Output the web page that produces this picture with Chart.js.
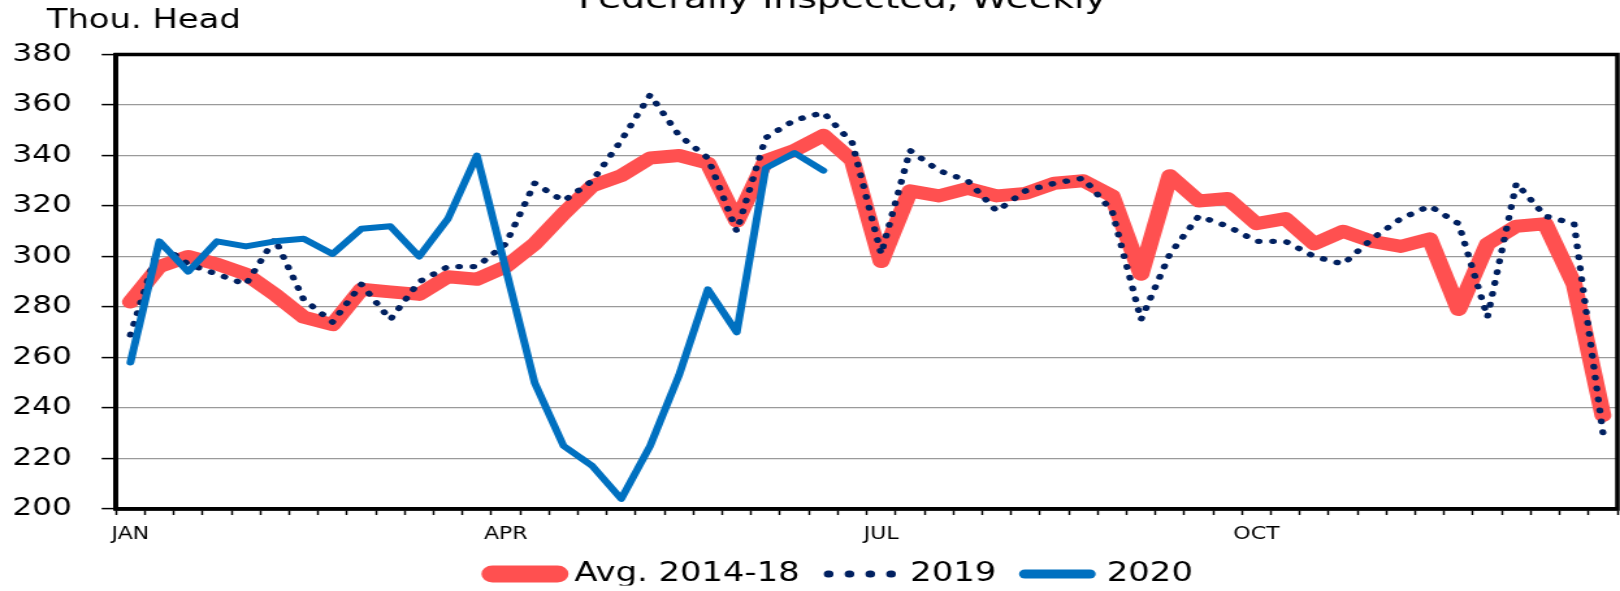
<!DOCTYPE html>
<html>
<head>
<meta charset="utf-8">
<title>Federally Inspected, Weekly</title>
<script src="https://cdn.jsdelivr.net/npm/chart.js@4.4.1/dist/chart.umd.min.js"></script>
<style>
  html, body { margin: 0; padding: 0; background: #fff; }
  canvas { display: block; }
</style>
</head>
<body>
<!-- drawn at 1246 px and shown at 1620 px: the source chart is stretched sideways -->
<canvas id="weekly-chart" width="1246" height="591" style="width:1620px;height:591px"></canvas>
<script>
const chartTitle = 'Federally Inspected, Weekly';
const unitLabel = 'Thou. Head';

const monthNames = ['JAN', 'APR', 'JUL', 'OCT'];
const monthWeeks = [0, 13, 26, 39];
const weekCount = 52;

const seriesNames = ['Avg. 2014-18', '2019', '2020'];

// thousand head, one value per week
const avg2014to18 = [282, 296, 300, 297, 293, 285, 276, 273, 287, 286, 285, 292, 291,
                     296, 305, 317, 328, 332, 339, 340, 337, 314, 338, 342, 348, 338,
                     298, 326, 324, 327, 324, 325, 329, 330, 324, 293, 332, 322, 323,
                     313, 315, 305, 310, 306, 304, 307, 279, 305, 312, 313, 289, 237];
const y2019 = [269, 305, 297, 293, 289, 307, 283, 274, 289, 275, 290, 296, 296,
               305, 329, 322, 330, 346, 364, 348, 339, 310, 347, 354, 357, 345,
               301, 342, 334, 330, 318, 326, 329, 331, 318, 275, 301, 316, 312,
               306, 306, 300, 297, 307, 315, 320, 313, 276, 329, 316, 313, 230];
const y2020 = [258, 306, 294, 306, 304, 306, 307, 301, 311, 312, 300, 315, 340,
               295, 250, 225, 217, 204, 225, 253, 287, 270, 335, 341, 334];

const yMin = 200, yMax = 380, yStep = 20;

const weekLabels = [];
for (let i = 0; i < weekCount; i++) {
    const k = monthWeeks.indexOf(i);
    weekLabels.push(k >= 0 ? monthNames[k] : '');
}

const FONT = "'DejaVu Sans', 'Verdana', sans-serif";

// plot frame + header texts, legend nudged to where the source has it
const framePlugin = {
    id: 'frame',
    afterLayout(chart) {
        const lg = chart.legend;
        lg.left += 22; lg.right += 22;
        lg.top -= 5.4; lg.bottom -= 5.4;
    },
    beforeDatasetsDraw(chart) {
        const { ctx, chartArea: a } = chart;
        ctx.save();
        ctx.strokeStyle = '#000';
        ctx.lineWidth = 3.5;
        ctx.strokeRect(a.left, a.top, a.right - a.left, a.bottom - a.top);
        ctx.restore();
    },
    afterDraw(chart) {
        const ctx = chart.ctx;
        ctx.save();
        ctx.fillStyle = '#000';
        ctx.textBaseline = 'alphabetic';
        ctx.font = `29px ${FONT}`;
        ctx.textAlign = 'center';
        ctx.fillText(chartTitle, 648, 8);
        ctx.font = `26px ${FONT}`;
        ctx.textAlign = 'left';
        ctx.fillText(unitLabel, 36, 28);
        ctx.restore();
    }
};

const legendLineWidths = [17, 7, 9];
const legendDashes = [[], [0.5, 15.5], []];

const ctx = document.getElementById('weekly-chart').getContext('2d');
new Chart(ctx, {
    type: 'line',
    data: {
        labels: weekLabels,
        datasets: [
            { label: seriesNames[0], data: avg2014to18, borderColor: '#FF5050', backgroundColor: '#FF5050',
              borderWidth: 13, order: 3 },
            { label: seriesNames[1], data: y2019, borderColor: '#002060', backgroundColor: '#002060',
              borderWidth: 5.4, borderDash: [0.5, 10.5], order: 2 },
            { label: seriesNames[2], data: y2020, borderColor: '#0070C0', backgroundColor: '#0070C0',
              borderWidth: 6, order: 1 }
        ]
    },
    options: {
        responsive: false,
        animation: false,
        devicePixelRatio: 1,
        layout: { padding: { left: 8.2, right: 2, top: 54.5, bottom: 0 } },
        elements: {
            point: { radius: 0, hoverRadius: 0 },
            line: { tension: 0, borderCapStyle: 'round', borderJoinStyle: 'round', fill: false }
        },
        datasets: { line: { clip: false } },
        scales: {
            x: {
                offset: true,
                grid: { display: true, offset: true, drawOnChartArea: false, drawTicks: true,
                        tickLength: 6, tickColor: '#000', tickWidth: 1.5 },
                border: { display: true, color: '#000', width: 3.5 },
                ticks: { autoSkip: false, maxRotation: 0, padding: 9, color: '#000',
                         font: { family: FONT, size: 17 } },
                afterFit(scale) { scale.height = 35.4; }
            },
            y: {
                min: yMin, max: yMax,
                grid: { color: '#9a9a9a', lineWidth: 1.2, tickLength: 11, tickColor: '#000', tickWidth: 1.5 },
                border: { display: true, color: '#000', width: 3.5 },
                ticks: { stepSize: yStep, padding: 23, color: '#000', font: { family: FONT, size: 24 } },
                afterFit(scale) { scale.width = 81; }
            }
        },
        plugins: {
            title: { display: false },
            tooltip: { enabled: false },
            legend: {
                position: 'bottom',
                maxHeight: 46.6,
                labels: {
                    usePointStyle: true,
                    pointStyle: 'line',
                    pointStyleWidth: 50,
                    padding: 22,
                    color: '#000',
                    font: { family: FONT, size: 26 },
                    sort: (a, b) => a.datasetIndex - b.datasetIndex,
                    generateLabels(chart) {
                        const items = Chart.defaults.plugins.legend.labels.generateLabels(chart);
                        items.forEach(it => {
                            it.lineWidth = legendLineWidths[it.datasetIndex];
                            it.lineDash = legendDashes[it.datasetIndex];
                            it.lineCap = 'round';
                        });
                        return items;
                    }
                }
            }
        }
    },
    plugins: [framePlugin]
});
</script>
</body>
</html>
